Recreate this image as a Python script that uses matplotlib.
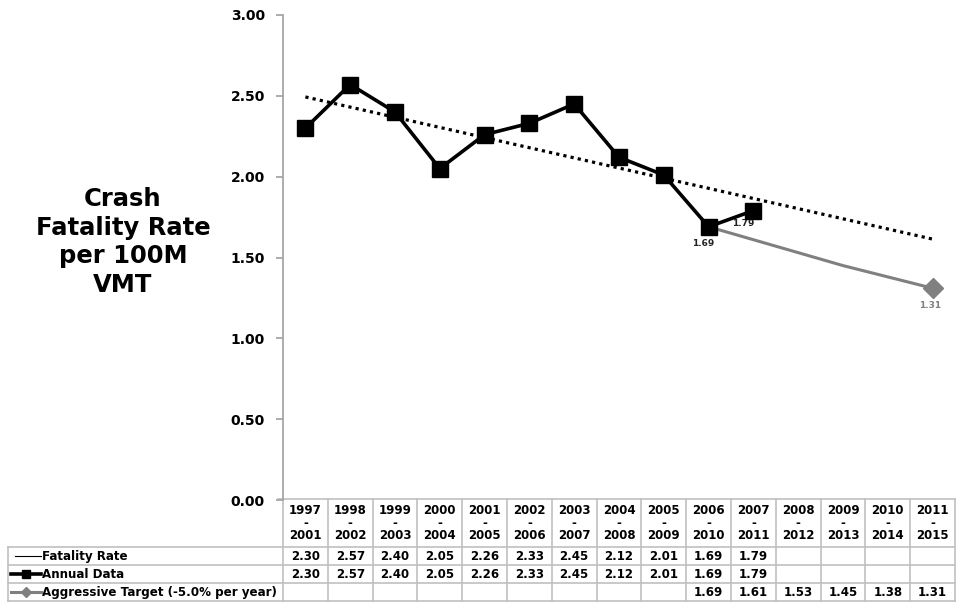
import numpy as np
import matplotlib.pyplot as plt
from matplotlib.transforms import blended_transform_factory

plt.rcParams['font.family'] = ['DejaVu Sans']

# ---- data -------------------------------------------------------------
periods = ["1997\n-\n2001", "1998\n-\n2002", "1999\n-\n2003", "2000\n-\n2004",
           "2001\n-\n2005", "2002\n-\n2006", "2003\n-\n2007", "2004\n-\n2008",
           "2005\n-\n2009", "2006\n-\n2010", "2007\n-\n2011", "2008\n-\n2012",
           "2009\n-\n2013", "2010\n-\n2014", "2011\n-\n2015"]
fatality_rate = [2.30, 2.57, 2.40, 2.05, 2.26, 2.33, 2.45, 2.12, 2.01, 1.69, 1.79]
annual_data = [2.30, 2.57, 2.40, 2.05, 2.26, 2.33, 2.45, 2.12, 2.01, 1.69, 1.79]
aggressive_target = [None] * 9 + [1.69, 1.61, 1.53, 1.45, 1.38, 1.31]
series_names = ["Fatality Rate", "Annual Data", "Aggressive Target (-5.0% per year)"]
y_ticks = [0.0, 0.5, 1.0, 1.5, 2.0, 2.5, 3.0]

W, H = 959, 602
fig = plt.figure(figsize=(W / 100, H / 100), dpi=100)

# main plotting area (pixel layout converted to figure fractions)
left_px, right_px, top_px, bottom_px = 283, 955, 15, 500
ax = fig.add_axes([left_px / W, 1 - bottom_px / H,
                   (right_px - left_px) / W, (bottom_px - top_px) / H])

n = len(periods)
x_all = np.arange(n)
x_obs = np.arange(len(annual_data))
target = np.array([np.nan if v is None else v for v in aggressive_target])

# linear trend of the fatality rate, extended across all periods
coef = np.polyfit(x_obs, fatality_rate, 1)
trend = np.polyval(coef, x_all)

grey = '#808080'
ax.plot(x_all, trend, color='black', lw=2.3, linestyle=(0, (1, 1.3)), zorder=2)
ax.plot(x_all, target, color=grey, lw=2.2, zorder=3)
ax.plot(x_all[-1], target[-1], marker='D', color=grey, markersize=10.5, zorder=4)
ax.plot(x_obs, fatality_rate, color='black', lw=0.8, zorder=4)
ax.plot(x_obs, annual_data, color='black', lw=2.6, marker='s', markersize=12, zorder=5)

# point labels
ax.annotate(f"{annual_data[9]:.2f}", (x_obs[9], annual_data[9]), xytext=(-4, -9),
            textcoords='offset points', ha='center', va='top', fontsize=6.5,
            fontweight='bold', color='#222222')
ax.annotate(f"{annual_data[10]:.2f}", (x_obs[10], annual_data[10]), xytext=(-7, -6),
            textcoords='offset points', ha='center', va='top', fontsize=6.5,
            fontweight='bold', color='#222222')
ax.annotate(f"{target[-1]:.2f}", (x_all[-1], target[-1]), xytext=(-2, -9),
            textcoords='offset points', ha='center', va='top', fontsize=6.5,
            fontweight='bold', color=grey)

ax.set_xlim(-0.5, n - 0.5)
ax.set_ylim(0, 3)
ax.set_yticks(y_ticks)
ax.set_yticklabels([f"{t:.2f}" for t in y_ticks], fontsize=10, fontweight='bold')
ax.set_xticks([])
for s in ['top', 'right', 'bottom']:
    ax.spines[s].set_visible(False)
ax.spines['left'].set_color('#a6a6a6')
ax.spines['left'].set_linewidth(1.3)
ax.tick_params(axis='y', direction='out', length=5, color='#a6a6a6', width=1.3, pad=8)
ax.patch.set_alpha(0)

fig.text(123 / W, 1 - 242 / H, "Crash\nFatality Rate\nper 100M\nVMT", ha='center',
         va='center', fontsize=17.5, fontweight='bold', linespacing=1.23)

# ---- data table under the chart --------------------------------------
ov = fig.add_axes([0, 0, 1, 1], zorder=-1)
ov.set_xlim(0, W)
ov.set_ylim(H, 0)
ov.axis('off')
tr = blended_transform_factory(ax.transData, ov.transData)

gc = '#c0c0c0'
glw = 1.2
row_tops = [499, 547, 565, 583, 601]
label_left = 8

# horizontal rules
ov.plot([278, right_px], [row_tops[0]] * 2, color=gc, lw=glw)
for yy in row_tops[1:]:
    ov.plot([label_left, right_px], [yy, yy], color=gc, lw=glw)
ov.plot([label_left, label_left], [row_tops[1], row_tops[-1]], color=gc, lw=glw)
# vertical rules between columns
for b in np.arange(n + 1) - 0.5:
    ov.plot([b, b], [row_tops[0], row_tops[-1]], color=gc, lw=glw, transform=tr)

# header cells
for i, p in enumerate(periods):
    ov.text(i, 523, p, transform=tr, ha='center', va='center', fontsize=8.5,
            fontweight='bold', linespacing=0.95)

# series rows
rows = [fatality_rate, annual_data, aggressive_target]
for r, vals in enumerate(rows):
    yc = (row_tops[r + 1] + row_tops[r + 2]) / 2
    for i, v in enumerate(vals):
        if v is not None:
            ov.text(i, yc + 0.5, f"{v:.2f}", transform=tr, ha='center', va='center',
                    fontsize=8.5, fontweight='bold')
    ov.text(42, yc + 0.5, series_names[r], ha='left', va='center', fontsize=8.6,
            fontweight='bold')

# legend keys inside the label column
y1 = (row_tops[1] + row_tops[2]) / 2
y2 = (row_tops[2] + row_tops[3]) / 2
y3 = (row_tops[3] + row_tops[4]) / 2
ov.plot([15, 41], [y1, y1], color='black', lw=0.8)
ov.plot([11, 41], [y2, y2], color='black', lw=2.6)
ov.plot([26], [y2], marker='s', color='black', markersize=6)
ov.plot([11, 41], [y3, y3], color=grey, lw=2.2)
ov.plot([26], [y3], marker='D', color=grey, markersize=5)

fig.savefig('out.png', dpi=100)
